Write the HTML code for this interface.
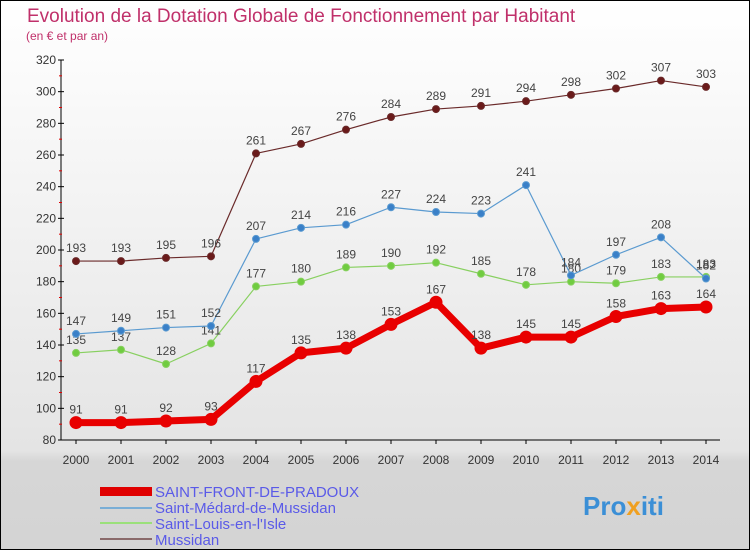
<!DOCTYPE html>
<html><head><meta charset="utf-8"><style>
body{margin:0;width:750px;height:550px;overflow:hidden;font-family:"Liberation Sans",sans-serif}
svg{display:block}
</style></head><body>
<svg id="c" width="750" height="550">
<defs><linearGradient id="bg" x1="0" y1="0" x2="0" y2="1">
<stop offset="0" stop-color="#ffffff"/><stop offset="0.82" stop-color="#e4e4e4"/><stop offset="0.84" stop-color="#d6d6d6"/><stop offset="1" stop-color="#d4d4d4"/></linearGradient></defs>
<rect x="0.5" y="0.5" width="749" height="549" fill="url(#bg)" stroke="#000"/>
<text x="27" y="22" font-size="19" fill="#c0306a">Evolution de la Dotation Globale de Fonctionnement par Habitant</text>
<text x="26" y="40" font-size="12" fill="#c0306a">(en € et par an)</text>
<g id="axes"></g><g id="series"></g>
<g>
<rect x="100" y="487" width="52" height="9" fill="#e00000"/>
<text x="155" y="497" font-size="15" fill="#5a5ae8">SAINT-FRONT-DE-PRADOUX</text>
<rect x="100" y="507" width="52" height="2" fill="#7aaed6"/>
<text x="155" y="513" font-size="15" fill="#5a5ae8">Saint-Médard-de-Mussidan</text>
<rect x="100" y="522" width="52" height="2" fill="#9be07a"/>
<text x="155" y="529" font-size="15" fill="#5a5ae8">Saint-Louis-en-l'Isle</text>
<rect x="100" y="538" width="52" height="2" fill="#8a6a6a"/>
<text x="155" y="545" font-size="15" fill="#5a5ae8">Mussidan</text>
</g>
<text x="583" y="515" font-size="26" font-weight="bold" fill="#3b8fd6">Pro<tspan fill="#f0a020">x</tspan>iti</text>
</svg>
<script>
const years=[2000,2001,2002,2003,2004,2005,2006,2007,2008,2009,2010,2011,2012,2013,2014];
const yTicks=[80,100,120,140,160,180,200,220,240,260,280,300,320];
const saintFront=[91,91,92,93,117,135,138,153,167,138,145,145,158,163,164];
const saintMedard=[147,149,151,152,207,214,216,227,224,223,241,184,197,208,182];
const saintLouis=[135,137,128,141,177,180,189,190,192,185,178,180,179,183,183];
const mussidan=[193,193,195,196,261,267,276,284,289,291,294,298,302,307,303];
const NS="http://www.w3.org/2000/svg";
const X=i=>76+i*45;
const Y=v=>440-(v-80)*380/240;
function el(t,a,p){const e=document.createElementNS(NS,t);for(const k in a)e.setAttribute(k,a[k]);p.appendChild(e);return e;}
const ax=document.getElementById('axes');
let l=el('line',{x1:61,y1:60,x2:61,y2:440,stroke:'#000'},ax);


l=el('line',{x1:61,y1:440,x2:720,y2:440,stroke:'#000'},ax);


yTicks.forEach((v,i)=>{
  el('line',{x1:58,y1:Y(v),x2:64,y2:Y(v),stroke:'#000'},ax);
  if(i<yTicks.length-1) el('line',{x1:59,y1:Y(v+10),x2:62,y2:Y(v+10),stroke:'#e00000'},ax);
  const t=el('text',{x:56,y:Y(v)+4,'font-size':12,fill:'#333','text-anchor':'end'},ax);t.textContent=v;
  
  
});
years.forEach((y,i)=>{
  el('line',{x1:X(i),y1:440,x2:X(i),y2:444,stroke:'#000'},ax);
  const t=el('text',{x:X(i),y:464,'font-size':12,fill:'#333','text-anchor':'middle'},ax);t.textContent=y;
  
  
});
const sg=document.getElementById('series');
function draw(data,color,dot,w,r,name){
  const g=el('g',{},sg);
  
  
  const p=el('polyline',{points:data.map((v,i)=>X(i)+','+Y(v)).join(' '),fill:'none',stroke:color,'stroke-width':w,'stroke-linejoin':'round'},g);
  
  
  data.forEach((v,i)=>{
    const c=el('circle',{cx:X(i),cy:Y(v),r:r,fill:dot,stroke:color,'stroke-width':1},g);
    
    
    const t=el('text',{x:X(i),y:Y(v)-9,'font-size':12,fill:'#444','text-anchor':'middle'},g);t.textContent=v;
    
    
  });
}
draw(mussidan,'#6a2a2a','#6a1a1a',1.2,3.5,'series-mussidan');
draw(saintLouis,'#88d060','#70cc40',1.2,3.5,'series-saint-louis');
draw(saintMedard,'#5a9ad0','#3a80c8',1.2,3.5,'series-saint-medard');
draw(saintFront,'#e80000','#e80000',7,6,'series-saint-front');
</script>
</body></html>
